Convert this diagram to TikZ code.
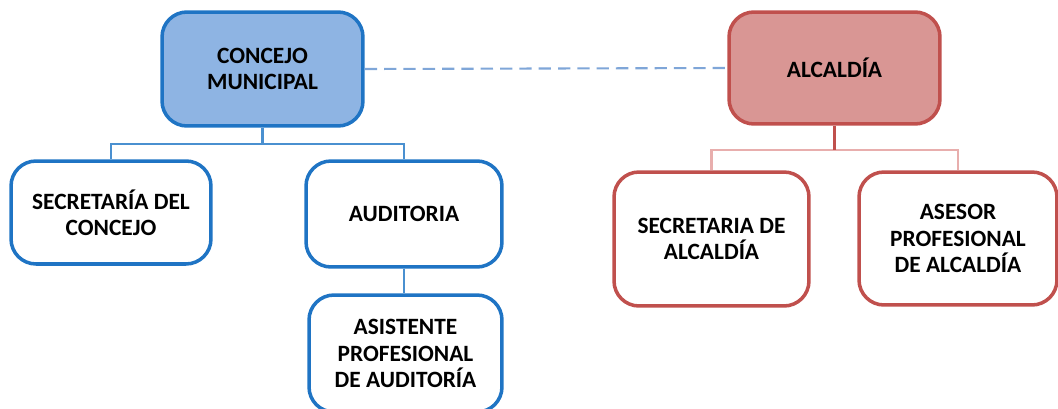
\documentclass[tikz,border=0pt]{standalone}
\usepackage{fontspec}
\setmainfont{Carlito}
\usepackage{tikz}
\usetikzlibrary{positioning,calc}
\definecolor{conblue}{HTML}{1F74C4}
\definecolor{confill}{HTML}{8EB4E3}
\definecolor{conline}{HTML}{4A90D0}
\definecolor{alcred}{HTML}{C0504D}
\definecolor{alcfill}{HTML}{D99694}
\definecolor{alcline}{HTML}{E8AEAD}
\definecolor{dashblue}{HTML}{7FA6D8}

\begin{document}
\begin{tikzpicture}[x=0.02cm,y=-0.02cm,
	box/.style={rounded corners=0.5cm,line width=2pt,align=center,inner sep=0pt,
		font=\fontsize{13.3}{14.9}\selectfont\bfseries},
	bluebox/.style={box,draw=conblue,fill=white},
	redbox/.style={box,draw=alcred,fill=white},
	bluelink/.style={draw=conline,line width=1.2pt},
	redlink/.style={draw=alcline,line width=1.2pt}]
		\useasboundingbox (0,0) rectangle (1058,409);
		\node[bluebox,fill=confill,minimum width=4.02cm,minimum height=2.28cm] (concejo) at (262.5,69) {CONCEJO\\MUNICIPAL};
		\node[bluebox,minimum width=4cm,minimum height=2.06cm] (secconcejo) at (111,212.5) {SECRETARÍA DEL\\CONCEJO};
		\node[bluebox,minimum width=3.92cm,minimum height=2.12cm] (auditoria) at (404,214) {AUDITORIA};
		\node[bluebox,minimum width=3.86cm,minimum height=2.34cm] (asistente) at (405.5,353.5) {ASISTENTE\\PROFESIONAL\\DE AUDITORÍA};
		\node[redbox,fill=alcfill,minimum width=4.22cm,minimum height=2.24cm] (alcaldia) at (834.5,68) {ALCALDÍA};
		\node[redbox,minimum width=3.9cm,minimum height=2.68cm] (secalcaldia) at (711.5,239) {SECRETARIA DE\\ALCALDÍA};
		\node[redbox,minimum width=3.96cm,minimum height=2.66cm] (asesor) at (958,238.5) {ASESOR\\PROFESIONAL\\DE ALCALDÍA};
		\draw[bluelink] (concejo.south) -- ++(0,16) -| (secconcejo.north);
		\draw[bluelink] (concejo.south) -- ++(0,16) -| (auditoria.north);
		\draw[bluelink] (auditoria.south) -- (auditoria.south |- asistente.north);
		\draw[redlink] (alcaldia.south) ++(0,24) -| (secalcaldia.north);
		\draw[redlink] (alcaldia.south) ++(0,24) -| (asesor.north);
		\draw[draw=alcred,line width=1.4pt] (alcaldia.south) -- ++(0,24);
		\draw[dashblue,line width=1.2pt,dash pattern=on 7pt off 4pt] (concejo.east) -- (alcaldia.west);
\end{tikzpicture}
\end{document}
